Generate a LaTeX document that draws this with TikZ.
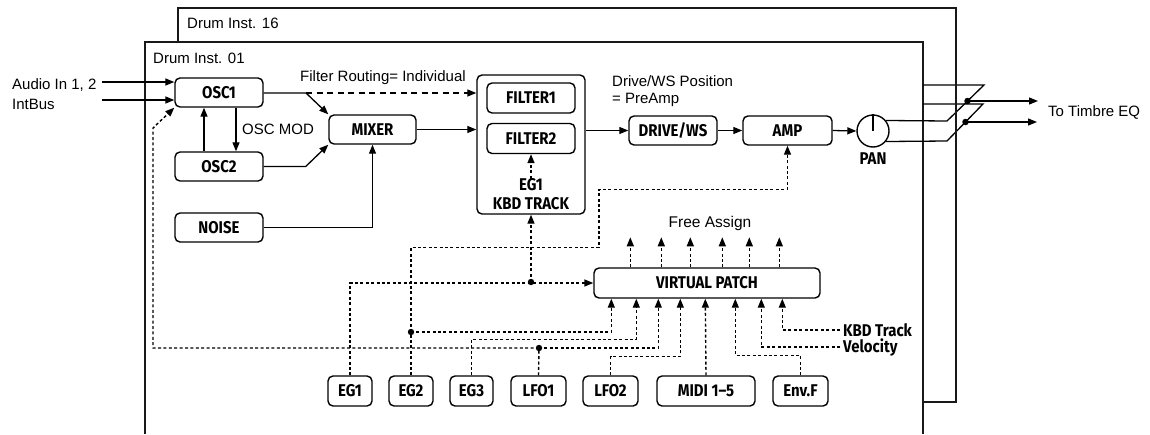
\documentclass[tikz,border=0pt]{standalone}
\usepackage{fontspec}
\setmainfont{Liberation Sans}
\newfontfamily\bxfont{Fira Sans}[FakeStretch=0.88]
\usetikzlibrary{arrows.meta,calc}
\tikzset{
  frame/.style={line width=1.5pt, draw=black!90},
  sig/.style={line width=1.3pt},
  mod/.style={line width=1.4pt, dash pattern=on 3pt off 2.4pt},
  route/.style={line width=1.3pt, dash pattern=on 6pt off 4.5pt},
  blk/.style={draw, line width=1.4pt, rounded corners=5pt, inner sep=0pt,
    minimum height=29pt, font=\bxfont\bfseries\fontsize{17}{17}\selectfont},
  btxt/.style={inner sep=0pt, font=\bxfont\bfseries\fontsize{17}{17}\selectfont},
  lbl/.style={inner sep=0pt, font=\fontsize{15}{15}\selectfont},
  jdot/.style={fill, circle, inner sep=0pt, minimum size=6.5pt},
}
\begin{document}
\begin{tikzpicture}[x=1pt,y=-1pt,>={Triangle[length=9pt,width=7pt]}]
\useasboundingbox (0,0) rectangle (1150,434);
% frames
\draw[frame] (178,8) rectangle (956,402);
\fill[white] (145,42) rectangle (923,434);
\draw[frame] (145,434) -- (145,42) -- (923,42) -- (923,434);
\node[lbl,anchor=west] (d16) at (187,23) {Drum Inst. 16};
\node[lbl,anchor=west] (d01) at (153,58) {Drum Inst. 01};

% blocks
\node[blk, minimum width=88pt] (osc1) at (219,92.5) {OSC1};
\node[blk, minimum width=88pt] (osc2) at (219,166.5) {OSC2};
\node[blk, minimum width=88pt] (noise) at (219,227.5) {NOISE};
\node[blk, minimum width=87pt] (mixer) at (372.5,129.5) {MIXER};
\node[draw, line width=1.4pt, rounded corners=5pt, minimum width=108pt, minimum height=139pt, inner sep=0pt] (filt) at (531,144.5) {};
\node[blk, minimum width=88pt, minimum height=30pt] (f1) at (531,98) {FILTER1};
\node[blk, minimum width=88pt, minimum height=30pt] (f2) at (531,138.5) {FILTER2};
\node[btxt] (egl) at (531,185) {EG1};
\node[btxt] (kt) at (531,204) {KBD TRACK};
\node[blk, minimum width=88pt] (drive) at (673,130.5) {DRIVE/WS};
\node[blk, minimum width=89pt] (amp) at (787.5,130.5) {AMP};
\node[draw, circle, line width=1.4pt, minimum size=32pt, inner sep=0pt] (pan) at (873,131) {};
\node[btxt] (panl) at (873,159) {PAN};
\node[blk, minimum width=226pt, minimum height=30pt] (vp) at (707,283) {VIRTUAL PATCH};

\node[blk, minimum width=44pt, minimum height=30pt] (eg1) at (350,391) {EG1};
\node[blk, minimum width=44pt, minimum height=30pt] (eg2) at (411,391) {EG2};
\node[blk, minimum width=43pt, minimum height=30pt] (eg3) at (471.5,391) {EG3};
\node[blk, minimum width=55pt, minimum height=30pt] (lfo1) at (538.5,391) {LFO1};
\node[blk, minimum width=55pt, minimum height=30pt] (lfo2) at (610.5,391) {LFO2};
\node[blk, minimum width=98pt, minimum height=30pt] (midi) at (706,391) {MIDI 1–5};
\node[blk, minimum width=55pt, minimum height=30pt] (envf) at (800.5,391) {Env.F};

\node[btxt,anchor=west] (kbd) at (843,330) {KBD Track};
\node[btxt,anchor=west] (vel) at (843,347) {Velocity};

% labels
\node[lbl,anchor=west] (ain) at (12,85) {Audio In 1, 2};
\node[lbl,anchor=west] (ib) at (12,104) {IntBus};
\node[lbl,anchor=west] (frl) at (300,78) {Filter Routing= Individual};
\node[lbl,anchor=west] (om) at (242,129) {OSC MOD};
\node[lbl,anchor=west] (dwp) at (612,81) {Drive/WS Position};
\node[lbl,anchor=west] (pre) at (612,100) {= PreAmp};
\node[lbl,font=\fontsize{15.5}{16}\selectfont] (fa) at (710,223) {Free Assign};
\node[lbl,anchor=west] (tte) at (1048,112) {To Timbre EQ};

% audio signal path
\coordinate (ainS) at (102,82);
\coordinate (ibS) at (102,100);
\draw[sig,->] (ainS) -- (ainS -| osc1.west);
\draw[sig,->] (ibS) -- (ibS -| osc1.west);
\coordinate (fr) at (306,93);
\draw[sig,->] (osc1.east |- fr) -- (fr) -- (mixer.north west);
\draw[route,->] (fr) -- (fr -| filt.west);
\draw[sig,->] (osc2.east) -- ++(42,0) -- (mixer.south west);
\draw[sig,->] (noise.east) -| (mixer.south);
\draw[sig,->] ([xshift=-15pt]osc2.north) -- ([xshift=-15pt]osc1.south);
\draw[sig,->] ([xshift=17pt]osc1.south) -- ([xshift=17pt]osc2.north);
\draw[sig,->] (mixer.east) -- (mixer.east -| filt.west);
\draw[sig,->] (filt.east |- drive.west) -- (drive.west);
\draw[sig,->] (drive.east) -- (amp.west);
\draw[sig,->] (amp.east) -- (pan.west);
\draw[sig] (pan.center) -- (pan.north);
\draw[mod,->] (egl.north) -- (f2.south);

% pan outputs
\coordinate (ua) at (947,121);
\coordinate (ub) at (984,85);
\coordinate (uc) at (923,85);
\coordinate (la) at (947,141);
\coordinate (lb) at (983,104);
\coordinate (lc) at (923,104);
\draw[sig] (pan.39) -- (ua) -- (ub) -- (uc);
\draw[sig] (pan.-39) -- (la) -- (lb) -- (lc);
\node[jdot] (ud) at (967.5,101) {};
\node[jdot] (ld) at (965.5,122) {};
\draw[sig,->] (ud.center) -- (1038,101);
\draw[sig,->] (ld.center) -- (1037,122);
\draw[frame] (956,8) -- (956,402);

% virtual patch inputs / outputs
\foreach \n/\dx in {1/18,2/43,3/65,4/87,5/112,6/142,7/168,8/189}
  \path (vp.south west) ++(\dx,0) coordinate (i\n);
\foreach \dx in {37,68,97,129,156,186}
  \draw[mod,->] ($(vp.north west)+(\dx,0)$) -- ++(0,-30);

% modulation routing
\coordinate (j1) at (531,282);
\coordinate (j2) at (411,332);
\coordinate (j3) at (539,348);
\draw[mod,->] (eg1.north) |- (vp.west);
\draw[mod,->] (j1) -- (filt.south);
\fill (j1) circle (3.2pt);
\draw[mod,->] (eg2.north) -- ++(0,-128) -- ++(188,0) -- ++(0,-58) -| (amp.south);
\draw[mod,->] (j2) -| (i1);
\fill (j2) circle (3.2pt);
\draw[mod,->] (eg3.north) -- ++(0,-36) -| (i2);
\draw[mod] (lfo1.north) -- (j3);
\draw[mod,->] (j3) -| (i3);
\draw[mod,->] (j3) -- (153,348) -- (153,128) -- (osc1.south west);
\fill (j3) circle (3.2pt);
\draw[mod,->] (lfo2.north) -- ++(0,-19) -| (i4);
\draw[mod,->] (midi.north) -- (i5);
\draw[mod,->] (envf.north) -- ++(0,-20) -| (i6);
\draw[mod,->] ([xshift=-3pt]vel.west) -| (i7);
\draw[mod,->] ([xshift=-3pt]kbd.west) -| (i8);
\end{tikzpicture}
\end{document}
